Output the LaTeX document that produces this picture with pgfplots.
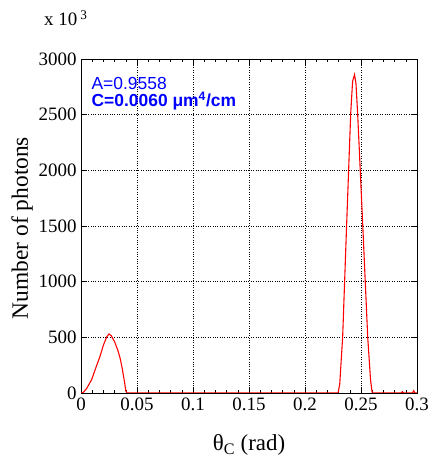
\documentclass[border=0pt]{standalone}
\usepackage{pgfplots}
\pgfplotsset{compat=1.18}
\usepackage{fontspec}
\setmainfont{Liberation Serif}
\setmathrm{Liberation Serif}
\newfontfamily\helv{Liberation Sans}
\newfontfamily\tms{Liberation Serif}

\begin{document}
\begin{tikzpicture}[x=1bp,y=1bp]
% page frame 428x464
\path[use as bounding box] (0,0) rectangle (428,464);
\begin{axis}[
    at={(81bp,71bp)}, anchor=south west,
    scale only axis,
    width=336bp, height=334bp,
    xmin=0, xmax=0.3, ymin=0, ymax=3000,
    xtick={0,0.05,0.1,0.15,0.2,0.25,0.3},
    xticklabels={0,0.05,0.1,0.15,0.2,0.25,0.3},
    ytick={0,500,1000,1500,2000,2500,3000},
    yticklabels={0,500,1000,1500,2000,2500,3000},
    minor x tick num=4,
    tick align=inside,
    xtick pos=both, ytick pos=both,
    major tick length=6bp, minor tick length=3bp,
    grid=major,
    major grid style={black, dotted, line width=0.6pt},
    axis line style={line width=0.9pt},
    every tick/.style={black, line width=0.6pt},
    tick label style={font=\tms\fontsize{19}{21}\selectfont},
    xticklabel style={yshift=-1bp},
    yticklabel style={xshift=-1bp},
    xlabel={θ\textsubscript{C} (rad)},
    xlabel style={font=\tms\fontsize{23}{26}\selectfont, at={(0.5,0)}, anchor=north, yshift=-38bp},
    clip=true,
]
\addplot[red, line width=1.1pt] coordinates {
    (0,0) (0.002,5) (0.005,40) (0.0095,120) (0.013,220) (0.017,330)
    (0.020,430) (0.023,505) (0.025,530) (0.027,515) (0.030,460)
    (0.033,380) (0.035,310) (0.037,210) (0.039,90) (0.040,20) (0.041,0)
    (0.2295,0) (0.231,80) (0.2336,500) (0.2372,1520) (0.2408,2510)
    (0.2425,2800) (0.2442,2860) (0.2455,2780) (0.2470,2510)
    (0.2515,1520) (0.2560,500) (0.2585,120) (0.2600,0)
    (0.286,0) (0.287,12) (0.288,0) (0.296,0) (0.297,20) (0.298,0) (0.3,0)
};
\node[anchor=base west, text=blue, font=\helv\fontsize{17.5}{19}\selectfont, inner sep=0pt]
    at (axis cs:0.0093,2730) {A=0.9558};
\node[anchor=base west, text=blue, font=\helv\bfseries\fontsize{17.5}{19}\selectfont, inner sep=0pt]
    at (axis cs:0.0093,2575) {C=0.0060 μm\textsuperscript{4}/cm};
\end{axis}
\node[rotate=90, font=\tms\fontsize{23.5}{26}\selectfont, inner sep=0pt] at (22bp,236bp) {Number of photons};
\node[anchor=base west, font=\tms\fontsize{19}{21}\selectfont, inner sep=0pt] at (44bp,438bp) {x 10\,\textsuperscript{3}};
\end{tikzpicture}
\end{document}
